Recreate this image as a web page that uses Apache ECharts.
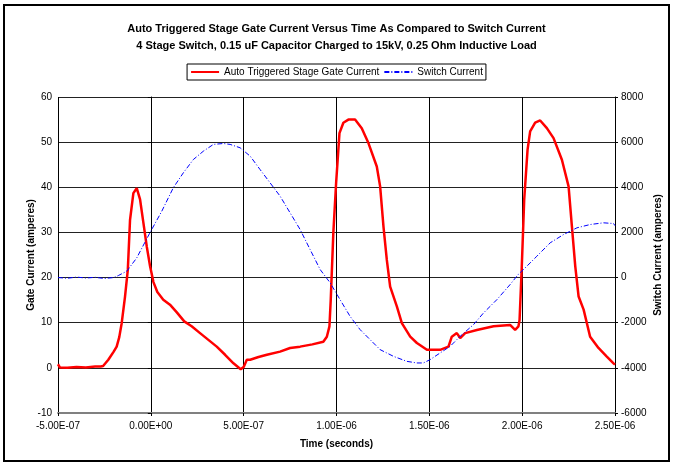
<!DOCTYPE html>
<html>
<head>
<meta charset="utf-8">
<script src="https://cdn.jsdelivr.net/npm/echarts@6/dist/echarts.min.js"></script>
<style>
  html, body { margin: 0; padding: 0; background: #fff; }
  #chart { width: 673px; height: 466px; }
</style>
</head>
<body>
<div id="chart"></div>
<script>
// time in nanoseconds, labels shown in seconds
var gateTime = [-500, -490, -450, -400, -350, -300, -270, -257, -229, -200, -184, -170, -157, -139, -124, -112, -94, -76, -58, -40, -22, -4, 14, 35, 67, 103, 140, 180, 220, 265, 310, 355, 400, 445, 484, 500, 517, 535, 580, 625, 696, 750, 804, 870, 929, 948, 962, 969, 983, 998, 1016, 1037, 1064, 1100, 1136, 1172, 1217, 1235, 1253, 1271, 1289, 1325, 1352, 1397, 1433, 1487, 1558, 1603, 1621, 1648, 1666, 1693, 1756, 1846, 1935, 1962, 1980, 1986, 1998, 2011, 2029, 2043, 2070, 2097, 2133, 2169, 2214, 2250, 2268, 2286, 2304, 2331, 2366, 2411, 2456, 2492, 2500];
var gateAmps = [0.8, 0.1, 0.0, 0.2, 0.1, 0.3, 0.3, 0.4, 1.8, 3.6, 4.7, 6.8, 9.9, 15.8, 21.7, 32.8, 38.7, 39.8, 37.3, 32.1, 26.9, 22.5, 19.0, 16.8, 15.1, 14.0, 12.3, 10.3, 9.2, 7.7, 6.2, 4.7, 2.9, 1.0, -0.3, 0.2, 1.8, 1.8, 2.4, 2.9, 3.6, 4.4, 4.7, 5.2, 5.8, 6.9, 9.2, 15.1, 29.9, 41.0, 52.0, 54.3, 55.0, 55.0, 53.1, 49.8, 44.6, 40.2, 31.3, 23.9, 18.0, 13.6, 9.9, 6.9, 5.5, 4.0, 4.0, 4.7, 6.9, 7.7, 6.6, 7.7, 8.4, 9.2, 9.5, 8.4, 9.2, 10.6, 22.5, 37.3, 48.3, 52.4, 54.3, 54.8, 53.1, 50.9, 46.1, 40.2, 31.3, 22.5, 15.8, 12.9, 6.9, 4.4, 2.5, 1.0, 0.7];

var switchTime = [-500, -450, -400, -350, -300, -250, -200, -175, -130, -76, -4, 59, 121, 175, 229, 283, 337, 391, 427, 481, 535, 588, 642, 696, 750, 804, 858, 912, 966, 1019, 1073, 1127, 1181, 1235, 1307, 1379, 1433, 1468, 1504, 1558, 1612, 1666, 1738, 1792, 1864, 1935, 1980, 2007, 2079, 2151, 2223, 2295, 2366, 2438, 2492, 2500];
var switchAmps = [0, -30, 20, -20, 10, -40, 0, 90, 280, 870, 2000, 2940, 3980, 4640, 5230, 5600, 5900, 5940, 5900, 5750, 5380, 4790, 4200, 3610, 2870, 2130, 1240, 355, -235, -976, -1716, -2306, -2750, -3193, -3490, -3712, -3783, -3783, -3637, -3340, -3047, -2603, -2084, -1566, -976, -310, 150, 355, 945, 1540, 1907, 2204, 2350, 2426, 2395, 2300];

var titleText = 'Auto Triggered Stage Gate Current Versus Time As Compared to Switch Current\n4 Stage Switch, 0.15 uF Capacitor Charged to 15kV, 0.25 Ohm Inductive Load';

function pairs(xs, ys) {
  var out = [];
  for (var i = 0; i < xs.length; i++) out.push([xs[i], ys[i]]);
  return out;
}

// -5e-7 -> "-5.00E-07"
function sciLabel(v) {
  var s = (v * 1e-9).toExponential(2).toUpperCase();
  return s.replace(/E([+-])(\d)$/, 'E$10$2');
}

var font = 'Liberation Sans, Arial, sans-serif';

var chart = echarts.init(document.getElementById('chart'));
var option = {
  backgroundColor: '#fff',
  animation: false,
  textStyle: { fontFamily: font },
  title: {
    text: titleText,
    left: 'center',
    top: 15,
    textStyle: { fontSize: 11, fontWeight: 'bold', color: '#000', lineHeight: 17, fontFamily: font }
  },
  legend: {
    top: 64,
    left: 'center',
    borderColor: '#000',
    borderWidth: 1,
    padding: [3, 3],
    itemGap: 4,
    itemWidth: 28,
    itemHeight: 10,
    itemStyle: { opacity: 0 },
    textStyle: { fontSize: 10, color: '#000', fontFamily: font },
    data: ['Auto Triggered Stage Gate Current', 'Switch Current']
  },
  grid: { left: 58, right: 58, top: 97, bottom: 53, outerBoundsMode: 'none' },
  xAxis: {
    type: 'value',
    min: -500, max: 2500, interval: 500,
    name: 'Time (seconds)',
    nameLocation: 'middle',
    nameGap: 26,
    nameMoveOverlap: false,
    nameTextStyle: { fontSize: 10, fontWeight: 'bold', color: '#000' },
    axisLine: { onZero: false, lineStyle: { color: '#808080', width: 2 } },
    axisTick: { show: true, length: 3, lineStyle: { color: '#000' } },
    axisLabel: { fontSize: 10, color: '#000', margin: 8, formatter: sciLabel },
    splitLine: { show: true, lineStyle: { color: '#000', width: 1 } }
  },
  yAxis: [
    {
      type: 'value',
      min: -10, max: 60, interval: 10,
      name: 'Gate Current (amperes)',
      nameLocation: 'middle',
      nameRotate: 90,
      nameGap: 22,
      nameMoveOverlap: false,
      nameTextStyle: { fontSize: 10, fontWeight: 'bold', color: '#000' },
      axisLine: { show: true, lineStyle: { color: '#000' } },
      axisTick: { show: true, length: 3, lineStyle: { color: '#000' } },
      axisLabel: { fontSize: 10, color: '#000', margin: 6 },
      splitLine: { show: true, lineStyle: { color: '#222', width: 1 } }
    },
    {
      type: 'value',
      min: -6000, max: 8000, interval: 2000,
      position: 'right',
      name: 'Switch Current (amperes)',
      nameLocation: 'middle',
      nameRotate: 90,
      nameGap: 38,
      nameMoveOverlap: false,
      nameTextStyle: { fontSize: 10, fontWeight: 'bold', color: '#000' },
      axisLine: { show: true, lineStyle: { color: '#000' } },
      axisTick: { show: true, length: 3, lineStyle: { color: '#000' } },
      axisLabel: { fontSize: 10, color: '#000', margin: 6, formatter: function (v) { return String(v); } },
      splitLine: { show: false }
    }
  ],
  graphic: [
    {
      type: 'rect',
      shape: { x: 4, y: 5, width: 665, height: 456 },
      style: { fill: 'none', stroke: '#000', lineWidth: 2 },
      silent: true
    }
  ],
  series: [
    {
      name: 'Auto Triggered Stage Gate Current',
      type: 'line',
      yAxisIndex: 0,
      data: pairs(gateTime, gateAmps),
      showSymbol: false,
      symbol: 'none',
      lineStyle: { color: '#ff0000', width: 2.5 },
      itemStyle: { color: '#ff0000' },
      z: 3
    },
    {
      name: 'Switch Current',
      type: 'line',
      yAxisIndex: 1,
      data: pairs(switchTime, switchAmps),
      showSymbol: false,
      symbol: 'none',
      lineStyle: { color: '#0000ff', width: 1, type: [5, 2, 1, 2] },
      itemStyle: { color: '#0000ff' },
      z: 4
    }
  ]
};
chart.setOption(option);
</script>
</body>
</html>
